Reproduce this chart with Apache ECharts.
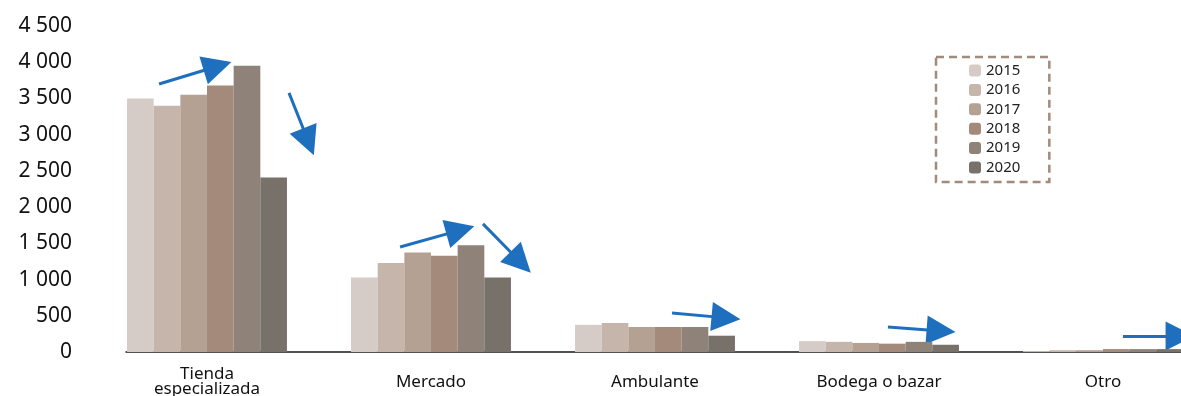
<!DOCTYPE html>
<html>
<head>
<meta charset="utf-8">
<script src="https://cdn.jsdelivr.net/npm/echarts@6/dist/echarts.min.js"></script>
<style>
  html, body { margin: 0; padding: 0; background: #fff; }
  #chart { width: 1181px; height: 396px; }
</style>
</head>
<body>
<div id="chart"></div>
<script>
// categorías del eje x
const categories = ['Tienda\nespecializada', 'Mercado', 'Ambulante', 'Bodega o bazar', 'Otro']
const years = ['2015', '2016', '2017', '2018', '2019', '2020']

// valores por año
const v2015 = [3500, 1030, 375, 150, 12]
const v2016 = [3400, 1230, 400, 140, 25]
const v2017 = [3550, 1375, 345, 125, 25]
const v2018 = [3680, 1330, 345, 115, 40]
const v2019 = [3950, 1475, 345, 140, 40]
const v2020 = [2410, 1030, 225, 100, 40]
const yearValues = [v2015, v2016, v2017, v2018, v2019, v2020]

const yearColors = ['#d6ccc7', '#c5b5ab', '#b5a194', '#a48a7a', '#8f8279', '#78716a']

// ticks del eje y
const yTicks = { min: 0, max: 4500, step: 500 }

// flechas de tendencia: [x inicio, y inicio], [x fin, y fin] (x en unidades de categoría)
const arrows = [
  [[0.286, 3700], [0.547, 3945]],
  [[0.866, 3577], [0.953, 2902]],
  [[1.362, 1450], [1.631, 1682]],
  [[1.732, 1768], [1.900, 1238]],
  [[2.576, 539], [2.817, 471]],
  [[3.540, 345], [3.777, 290]],
  [[4.589, 221], [4.844, 221]]
]

const fmt = v => String(v).replace(/\B(?=(\d{3})+(?!\d))/g, ' ')

const chart = echarts.init(document.getElementById('chart'))

const barSeries = years.map((y, i) => ({
  name: y,
  type: 'bar',
  xAxisIndex: 0,
  yAxisIndex: 0,
  data: yearValues[i],
  barGap: '0%',
  barCategoryGap: '28.6%',
  itemStyle: { color: yearColors[i] },
  emphasis: { disabled: true }
}))

const option = {
  animation: false,
  textStyle: { fontFamily: 'Noto Sans' },
  grid: [
    { left: 95, top: 26, bottom: 44, width: 1120, outerBoundsMode: 'none' },
    { left: 126, top: 26, bottom: 44, right: -40, outerBoundsMode: 'none' }
  ],
  legend: {
    data: years,
    orient: 'vertical',
    left: 936,
    top: 57,
    padding: [6, 29, 7, 33],
    itemWidth: 12,
    itemHeight: 12,
    itemGap: 4.4,
    borderColor: '#a38b7b',
    borderWidth: 2.5,
    borderType: [8, 5],
    textStyle: { fontSize: 15, color: '#222', fontFamily: 'Noto Sans' },
    selectedMode: false
  },
  xAxis: [
    {
      type: 'category',
      gridIndex: 0,
      data: categories,
      axisLine: { show: false },
      axisTick: { show: false },
      axisLabel: {
        interval: 0,
        margin: 30,
        verticalAlign: 'middle',
        fontSize: 17,
        lineHeight: 15,
        color: '#111'
      }
    },
    {
      type: 'value',
      gridIndex: 0,
      min: 0,
      max: 5,
      show: false
    },
    {
      type: 'value',
      gridIndex: 1,
      min: 0,
      max: 1,
      axisLine: { show: true, lineStyle: { color: '#1a1a1a', width: 1.5 } },
      axisTick: { show: false },
      axisLabel: { show: false },
      splitLine: { show: false }
    }
  ],
  yAxis: [
    {
      type: 'value',
      gridIndex: 0,
      min: yTicks.min,
      max: yTicks.max,
      interval: yTicks.step,
      axisLine: { show: false },
      axisTick: { show: false },
      splitLine: { show: false },
      axisLabel: {
        margin: 23,
        fontSize: 21,
        color: '#111',
        formatter: fmt
      }
    },
    {
      type: 'value',
      gridIndex: 1,
      show: false
    }
  ],
  series: [
    ...barSeries,
    {
      type: 'lines',
      coordinateSystem: 'cartesian2d',
      xAxisIndex: 1,
      yAxisIndex: 0,
      symbol: ['none', 'triangle'],
      symbolSize: 29,
      lineStyle: { color: '#1f6fbf', width: 3, opacity: 1, curveness: 0 },
      data: arrows.map(a => ({ coords: a })),
      silent: true
    }
  ]
}

chart.setOption(option)
</script>
</body>
</html>
